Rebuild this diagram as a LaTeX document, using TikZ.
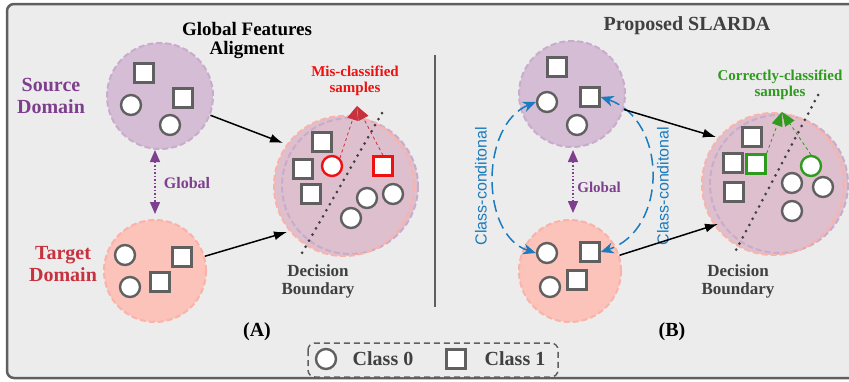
\documentclass[tikz,border=0pt]{standalone}
\usepackage{fontspec}
\setmainfont{Liberation Serif}
\setsansfont{Liberation Sans}
\usetikzlibrary{arrows.meta}

\definecolor{bgray}{HTML}{ECECEC}
\definecolor{framegray}{HTML}{5F5F5F}
\definecolor{shapegray}{HTML}{606060}
\definecolor{srcfill}{HTML}{D5BDD5}
\definecolor{srcline}{HTML}{C9ACCB}
\definecolor{tgtfill}{HTML}{FCC3BA}
\definecolor{tgtline}{HTML}{FBB2A8}
\definecolor{mixfill}{HTML}{DDBFCE}
\definecolor{domtext}{HTML}{7E3F8E}
\definecolor{tgttext}{HTML}{C8323F}
\definecolor{misred}{HTML}{F01010}
\definecolor{headred}{HTML}{C8303C}
\definecolor{okgreen}{HTML}{2E9A1E}
\definecolor{condblue}{HTML}{1B7BBD}
\definecolor{dectext}{HTML}{404040}

\newcommand{\fsz}[1]{\fontsize{#1}{#1}\selectfont}

\tikzset{
  sqr/.style={draw=shapegray, line width=2.4pt, fill=white, minimum size=19pt, inner sep=0pt},
  crc/.style={circle, draw=shapegray, line width=2.4pt, fill=white, minimum size=20pt, inner sep=0pt},
  srcblob/.style={circle, fill=srcfill, draw=srcline, line width=2pt, dash pattern=on 6pt off 3pt, minimum size=106pt, inner sep=0pt},
  tgtblob/.style={circle, fill=tgtfill, draw=tgtline, line width=2pt, dash pattern=on 6pt off 3pt, minimum size=102pt, inner sep=0pt},
  lbl/.style={font=\bfseries\fsz{20}, align=center, inner sep=0pt},
  feed/.style={-{Latex[length=13pt,width=9pt]}, line width=1.5pt, black},
  glob/.style={{Triangle[length=12pt,width=10pt]}-{Triangle[length=12pt,width=10pt]}, domtext, line width=1.5pt, dotted},
  cond/.style={{Stealth[length=13pt,width=11pt]}-{Stealth[length=13pt,width=11pt]}, condblue, line width=1.5pt, dash pattern=on 12pt off 6pt},
  boundary/.style={dectext, line width=3pt, line cap=round, dash pattern=on 0pt off 7pt},
}

\begin{document}
\begin{tikzpicture}[x=1pt,y=-1pt]
\useasboundingbox (0,0) rectangle (849,381);
% frame
\draw[framegray, fill=bgray, line width=2.5pt, rounded corners=7pt] (7,4) rectangle (860,378);
\draw[framegray, line width=1.5pt] (435,55) -- (435,307);

% titles
\node[lbl, font=\bfseries\fsz{19}] (titleA) at (247,41) {Global Features\\Aligment};
\node[lbl, text=dectext] (titleB) at (687,26) {Proposed SLARDA};

% (A) domains
\node[srcblob] (srcA) at (160,96) {};
\node[tgtblob] (tgtA) at (155,271) {};
\node[lbl, text=domtext] (srcAtxt) at (51,96) {Source\\[2pt]Domain};
\node[lbl, text=tgttext] (tgtAtxt) at (63,264) {Target\\[2pt]Domain};

\node[sqr] (sa1) at (144,73) {};
\node[sqr] (sa2) at (183,98) {};
\node[crc] (sa3) at (131,105) {};
\node[crc] (sa4) at (170,125) {};

\node[crc] (ta1) at (125,255) {};
\node[sqr] (ta2) at (182,257) {};
\node[crc] (ta3) at (130,287) {};
\node[sqr] (ta4) at (160,282) {};

\draw[glob] (155,150) -- (155,214);
\node[lbl, font=\bfseries\fsz{16}, text=domtext] (globA) at (187,183) {Global};

% (A) aligned space
\fill[mixfill] (344,186) circle (70);
\fill[mixfill] (350,186) circle (68);
\draw[srcline, line width=2pt, dash pattern=on 6pt off 3pt] (350,186) circle (68);
\draw[tgtline, line width=2pt, dash pattern=on 6pt off 3pt] (344,186) circle (70);

\node[sqr] (ma1) at (322,142) {};
\node[sqr] (ma2) at (303,169) {};
\node[sqr] (ma3) at (311,194) {};
\node[crc, draw=misred] (ma4) at (332,166) {};
\node[sqr, draw=misred] (ma5) at (383,166) {};
\node[crc] (ma6) at (367,198) {};
\node[crc] (ma7) at (393,194) {};
\node[crc] (ma8) at (351,218) {};

\draw[boundary] (382,113) -- (302,253);
\node[lbl, font=\bfseries\fsz{17}, text=dectext] (decA) at (318,281) {Decision\\[1pt]Boundary};

\draw[feed] (srcA) -- (283,143);
\draw[feed] (tgtA) -- (287,232);

\coordinate (tipA) at (357,106);
\draw[headred, line width=0.8pt, dashed, -{Triangle[length=14pt,width=11pt]}] (ma4.north east) -- (tipA);
\draw[headred, line width=0.8pt, dashed, -{Triangle[length=14pt,width=11pt]}] (ma5.north) -- (tipA);
\node[lbl, font=\bfseries\fsz{15}, text=misred] (misA) at (355,81) {Mis-classified\\[1pt]samples};

\node[lbl] (capA) at (257,332) {(A)};

% (B) domains
\node[srcblob] (srcB) at (572,94) {};
\node[tgtblob] (tgtB) at (570,271) {};

\node[sqr] (sb1) at (557,67) {};
\node[sqr] (sb2) at (590,97) {};
\node[crc] (sb3) at (547,102) {};
\node[crc] (sb4) at (577,125) {};

\node[crc] (tb1) at (547,253) {};
\node[sqr] (tb2) at (590,252) {};
\node[crc] (tb3) at (550,287) {};
\node[sqr] (tb4) at (577,280) {};

\draw[glob] (573,150) -- (573,213);
\node[lbl, font=\bfseries\fsz{15}, text=domtext] (globB) at (599,187) {Global};

\draw[cond] (sb3.west) .. controls (480,125) and (480,235) .. (tb1.west);
\draw[cond] (sb2.east) .. controls (668,120) and (668,230) .. (tb2.east);
\node[font=\sffamily\fsz{16}, text=condblue, rotate=90, inner sep=0pt] (condL) at (481,186) {Class-conditonal};
\node[font=\sffamily\fsz{16}, text=condblue, rotate=90, inner sep=0pt] (condR) at (663,186) {Class-conditonal};

% (B) aligned space
\fill[mixfill] (773,184) circle (71);
\fill[mixfill] (779,184) circle (69);
\draw[srcline, line width=2pt, dash pattern=on 6pt off 3pt] (779,184) circle (69);
\draw[tgtline, line width=2pt, dash pattern=on 6pt off 3pt] (773,184) circle (71);

\node[sqr] (mb1) at (752,137) {};
\node[sqr] (mb2) at (733,163) {};
\node[sqr] (mb3) at (734,192) {};
\node[sqr, draw=okgreen] (mb4) at (756,164) {};
\node[crc, draw=okgreen] (mb5) at (811,166) {};
\node[crc] (mb6) at (792,183) {};
\node[crc] (mb7) at (823,187) {};
\node[crc] (mb8) at (792,211) {};

\draw[boundary] (818,95) -- (735,252);
\node[lbl, font=\bfseries\fsz{17}, text=dectext] (decB) at (738,281) {Decision\\[1pt]Boundary};

\draw[feed] (srcB) -- (716,137);
\draw[feed] (tgtB) -- (718,224);

\coordinate (tipB) at (782,112);
\draw[okgreen, line width=0.8pt, dashed, -{Triangle[length=14pt,width=11pt]}] (mb4.north east) -- (tipB);
\draw[okgreen, line width=0.8pt, dashed, -{Triangle[length=14pt,width=11pt]}] (mb5.north) -- (tipB);
\node[lbl, font=\bfseries\fsz{15}, text=okgreen] (okB) at (780,85) {Correctly-classified\\[1pt]samples};

\node[lbl] (capB) at (672,332) {(B)};

% legend
\draw[framegray, fill=bgray, line width=1.5pt, dash pattern=on 6pt off 4pt, rounded corners=7pt] (308,343) rectangle (558,377);
\node[crc] (leg0) at (326,359) {};
\node[lbl, text=dectext] (leg0txt) at (383,359) {Class 0};
\node[sqr] (leg1) at (456,359) {};
\node[lbl, text=dectext] (leg1txt) at (515,359) {Class 1};
\end{tikzpicture}
\end{document}
